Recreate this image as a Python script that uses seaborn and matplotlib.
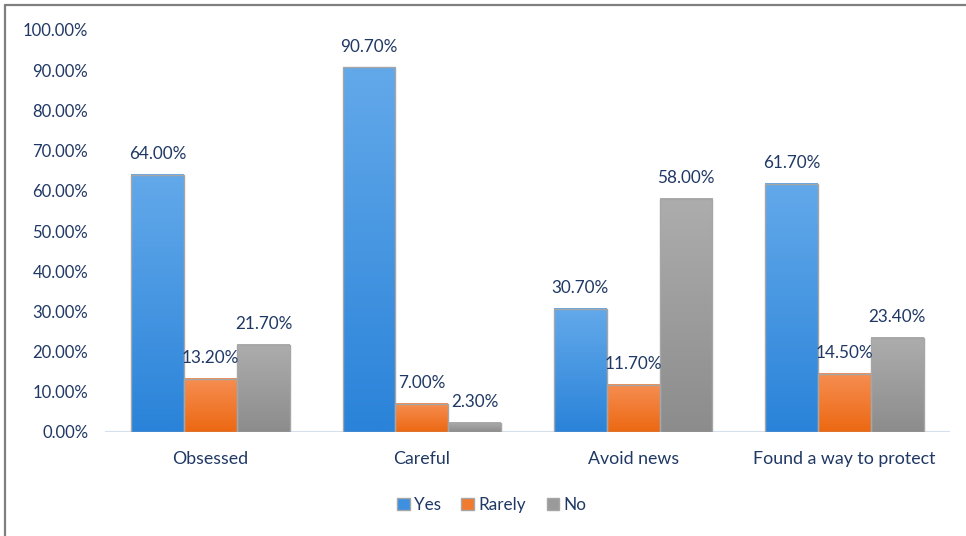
import numpy as np
import pandas as pd
import matplotlib
matplotlib.use("Agg")
import matplotlib.pyplot as plt
import seaborn as sns
from matplotlib.colors import LinearSegmentedColormap
from matplotlib.patches import Patch
from matplotlib.lines import Line2D

# Survey responses (percent)
categories = ["Obsessed", "Careful", "Avoid news", "Found a way to protect"]
series = ["Yes", "Rarely", "No"]
yes = [64.0, 90.7, 30.7, 61.7]
rarely = [13.2, 7.0, 11.7, 14.5]
no = [21.7, 2.3, 58.0, 23.4]
yticks = [0, 10, 20, 30, 40, 50, 60, 70, 80, 90, 100]

df = pd.DataFrame({
    "category": categories * 3,
    "response": [s for s in series for _ in categories],
    "value": yes + rarely + no,
})

# (bottom, top) colours of each series' vertical gradient
gradients = {
    "Yes": ("#2A83D9", "#63A9EA"),
    "Rarely": ("#EC6812", "#F68E52"),
    "No": ("#8C8C8C", "#ADADAD"),
}
mid_colors = ["#3D8FE0", "#F07A2E", "#9A9A9A"]
text_color = "#1F3864"

sns.set_theme(style="white")
plt.rcParams["font.family"] = ["Lato", "DejaVu Sans"]

fig = plt.figure(figsize=(9.66, 5.36), dpi=100)
ax = fig.add_axes([105 / 966, (536 - 432) / 536, 845 / 966, (432 - 30) / 536])

sns.barplot(data=df, x="category", y="value", hue="response",
            hue_order=series, order=categories, palette=mid_colors,
            width=0.75, gap=0, saturation=1, legend=False, ax=ax)

for name, container in zip(series, ax.containers):
    lo, hi = gradients[name]
    cmap = LinearSegmentedColormap.from_list(name, [lo, hi])
    grad = np.linspace(0, 1, 256).reshape(-1, 1)
    for bar in container:
        x0, y0 = bar.get_xy()
        w, h = bar.get_width(), bar.get_height()
        ax.imshow(grad, extent=(x0, x0 + w, y0, y0 + h), origin="lower",
                  cmap=cmap, aspect="auto", zorder=2)
        bar.set_facecolor("none")
        bar.set_edgecolor("#A6A6A6")
        bar.set_linewidth(1.0)
        bar.set_zorder(3)
    ax.bar_label(container, labels=[f"{b.get_height():.2f}%" for b in container],
                 padding=9, color=text_color, fontsize=12.3, clip_on=False)

ax.set_xlim(-0.5, 3.5)
ax.set_ylim(0, 100)
ax.set_yticks(yticks)
ax.set_yticklabels([f"{t:.2f}%" for t in yticks])
ax.set_xlabel("")
ax.set_ylabel("")
ax.tick_params(axis="both", length=0, labelsize=12, labelcolor=text_color)
ax.tick_params(axis="y", pad=12)
ax.tick_params(axis="x", pad=14, labelsize=12.8)
for s in ax.spines.values():
    s.set_visible(False)
ax.axhline(0, color="#D6DFEC", lw=1.5, zorder=1)

handles = [Patch(facecolor=c, edgecolor="#A6A6A6", lw=1.0) for c in mid_colors]
fig.legend(handles, series, loc="center", bbox_to_anchor=(0.509, 1 - 505 / 536),
           ncol=3, frameon=False, fontsize=12.3, labelcolor=text_color,
           handlelength=0.75, handleheight=0.75, handletextpad=0.25,
           columnspacing=1.2)

# outer frame lines (top and left)
fig.add_artist(Line2D([5 / 966, 1], [1 - 5 / 536, 1 - 5 / 536],
                      color="#7F7F7F", lw=1.6, transform=fig.transFigure))
fig.add_artist(Line2D([5 / 966, 5 / 966], [0, 1 - 5 / 536],
                      color="#7F7F7F", lw=1.6, transform=fig.transFigure))

fig.savefig("out.png", dpi=100)
